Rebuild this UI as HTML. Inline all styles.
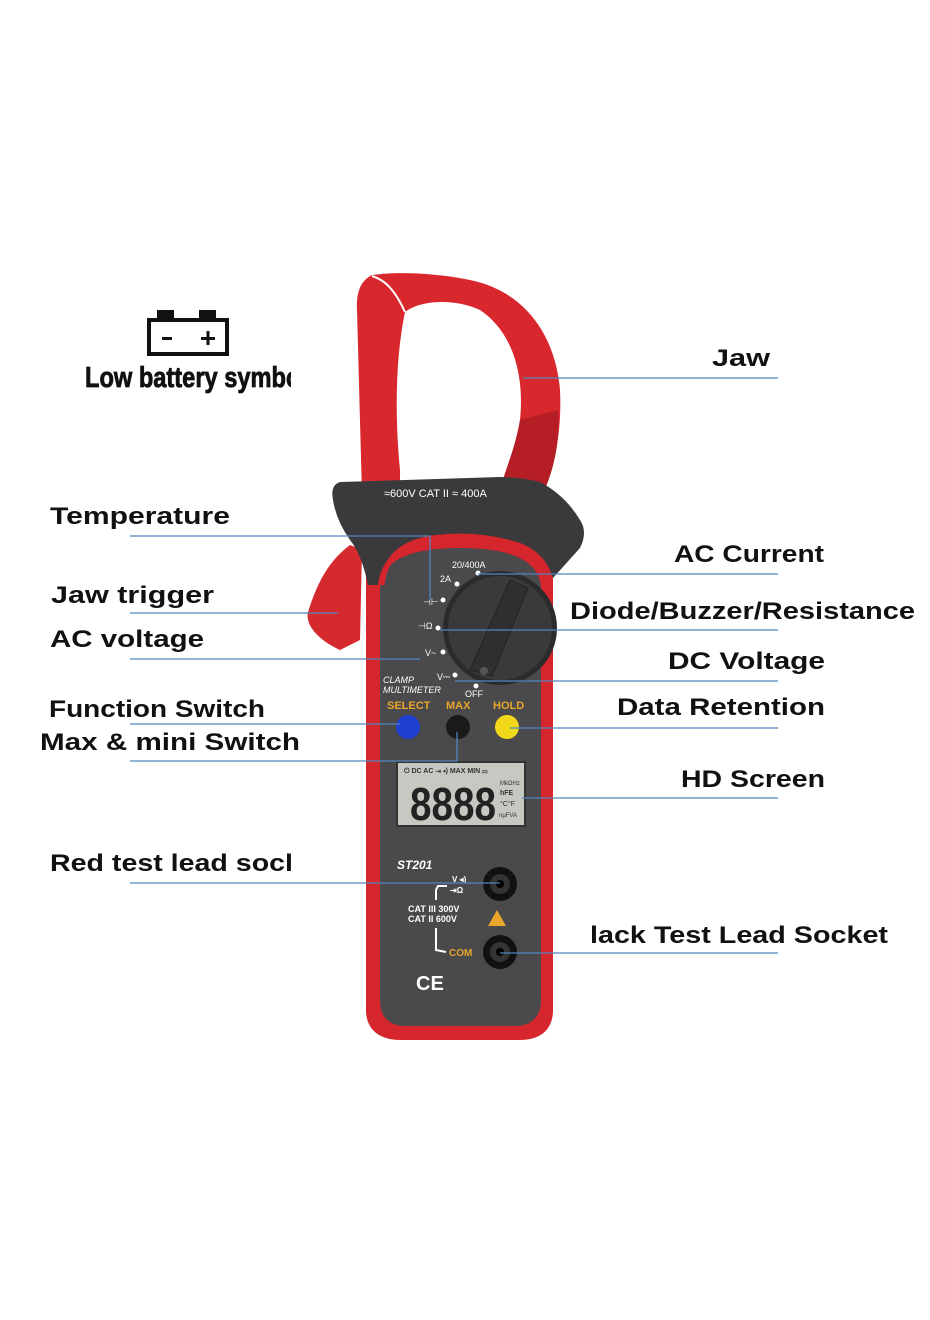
<!DOCTYPE html>
<html><head><meta charset="utf-8"><style>
html,body{margin:0;padding:0;background:#fff;}
svg{display:block}
.l{font-family:"Liberation Sans",sans-serif;font-weight:bold;font-size:24px;fill:#111;}
.ln{stroke:#4f86bd;stroke-width:1.3;fill:none}
.w{font-family:"Liberation Sans",sans-serif;fill:#fff;font-weight:bold}
.o{font-family:"Liberation Sans",sans-serif;fill:#e9a62a;font-weight:bold}
</style></head><body>
<svg width="930" height="1320" viewBox="0 0 930 1320" xmlns="http://www.w3.org/2000/svg">
<rect width="930" height="1320" fill="#fff"/>
<!-- battery icon -->
<rect x="149" y="320" width="78" height="34" fill="none" stroke="#111" stroke-width="4"/>
<rect x="157" y="310" width="17" height="11" fill="#111"/>
<rect x="199" y="310" width="17" height="11" fill="#111"/>
<rect x="162" y="337" width="10" height="3" fill="#111"/>
<rect x="201" y="337" width="14" height="3" fill="#111"/>
<rect x="206.5" y="331" width="3" height="14" fill="#111"/>
<svg x="0" y="0" width="291" height="400"><text x="85" y="387" font-family="Liberation Sans,sans-serif" font-weight="bold" font-size="29" textLength="222" lengthAdjust="spacingAndGlyphs" fill="#111" stroke="#111" stroke-width="0.8">Low battery symbol</text></svg>

<!-- jaw trigger -->
<path d="M350 545 C330 560 318 580 308 612 C305 625 318 640 340 650 L360 640 L362 550 Z" fill="#d42a2e"/>
<!-- jaw -->
<path d="M372 275 C362 280 356 290 357 310 L362 495 L400 495 L400 470 C395 420 395 360 405 312 C420 300 455 298 480 310 C510 330 525 370 520 420 C515 450 505 470 500 490 L540 500 C555 470 562 430 560 390 C555 330 520 290 470 280 C430 272 395 272 372 275 Z" fill="#d9272e"/>
<path d="M372 276 C385 280 395 290 405 312" stroke="#fff" stroke-width="2" fill="none"/>
<path d="M520 420 C515 450 505 470 500 490 L540 500 C555 470 560 440 558 410 Z" fill="#b51e24"/>
<!-- body -->
<path d="M366 580 C366 540 400 520 460 520 C520 520 553 540 553 580 L553 1010 C553 1030 540 1040 520 1040 L400 1040 C380 1040 366 1030 366 1010 Z" fill="#d5262d"/>
<path d="M380 590 C380 560 410 548 460 548 C510 548 541 560 541 590 L541 1000 C541 1018 530 1026 515 1026 L405 1026 C390 1026 380 1018 380 1000 Z" fill="#4a4a4d"/>
<!-- head -->
<path d="M340 482 Q330 485 333 500 Q336 520 350 540 Q362 555 368 585 L378 585 Q382 548 430 537 Q475 530 520 543 Q545 553 553 578 L580 548 Q588 532 580 520 Q565 495 540 482 Q520 477 500 477 Z" fill="#3a3a3c"/>
<path d="M382 585 Q386 545 432 538 Q478 532 518 545 Q540 553 548 572" stroke="#d5262d" stroke-width="5" fill="none"/>
<text x="384" y="497" font-family="Liberation Sans,sans-serif" font-size="11" fill="#fff">≈600V CAT II ≈ 400A</text>
<!-- dial -->
<circle cx="500" cy="628" r="57" fill="#2b2b2d"/>
<circle cx="500" cy="628" r="52" fill="#3a3a3c"/>
<path d="M470 670 L510 580 L528 588 L492 676 Z" fill="#303032" stroke="#222" stroke-width="1"/>
<circle cx="484" cy="671" r="4" fill="#555"/>
<g font-family="Liberation Sans,sans-serif" font-size="9" fill="#fff">
<text x="452" y="568">20/400A</text><text x="440" y="582">2A</text>
<text x="423" y="605">⊣⊢</text><text x="418" y="629">⊣Ω</text>
<text x="425" y="656">V~</text><text x="437" y="680">V⎓</text><text x="465" y="697">OFF</text>
<text x="383" y="683" font-style="italic">CLAMP</text><text x="383" y="693" font-style="italic">MULTIMETER</text>
</g>
<g fill="#fff"><circle cx="478" cy="573" r="2.5"/><circle cx="457" cy="584" r="2.5"/><circle cx="443" cy="600" r="2.5"/><circle cx="438" cy="628" r="2.5"/><circle cx="443" cy="652" r="2.5"/><circle cx="455" cy="675" r="2.5"/><circle cx="476" cy="686" r="2.5"/></g>
<!-- buttons -->
<text x="387" y="709" class="o" font-size="11">SELECT</text><text x="446" y="709" class="o" font-size="11">MAX</text><text x="493" y="709" class="o" font-size="11">HOLD</text>
<circle cx="408" cy="727" r="12" fill="#1f3fd0"/><circle cx="458" cy="727" r="12" fill="#1a1a1a"/><circle cx="507" cy="727" r="12" fill="#f2d81a"/>
<!-- LCD -->
<rect x="397" y="762" width="128" height="64" fill="#c6c8c2" stroke="#333" stroke-width="2"/>
<text x="404" y="773" font-family="Liberation Sans,sans-serif" font-size="7" font-weight="bold" fill="#333">⏻ DC AC ⇥ ◂) MAX MIN ▭</text>
<text x="410" y="820" font-family="Liberation Sans,sans-serif" font-weight="bold" font-size="46" fill="#222" textLength="86" lengthAdjust="spacingAndGlyphs">8888</text>
<text x="500" y="785" font-family="Liberation Sans,sans-serif" font-size="6" fill="#333">MkΩHz</text>
<text x="500" y="795" font-family="Liberation Sans,sans-serif" font-size="7" font-weight="bold" fill="#333">hFE</text>
<text x="500" y="806" font-family="Liberation Sans,sans-serif" font-size="7" fill="#333">°C°F</text>
<text x="499" y="817" font-family="Liberation Sans,sans-serif" font-size="6" fill="#333">nμFVA</text>
<!-- lower -->
<text x="397" y="869" class="w" font-size="12" font-style="italic">ST201</text>
<text x="452" y="882" class="w" font-size="8">V ◂)</text><text x="450" y="893" class="w" font-size="8">⇥Ω</text>
<text x="408" y="912" class="w" font-size="9" font-weight="normal">CAT III 300V</text><text x="408" y="922" class="w" font-size="9" font-weight="normal">CAT II 600V</text>
<path d="M447 886 L438 886 L436 890 L436 900 M436 928 L436 950 L446 952" stroke="#fff" stroke-width="2" fill="none"/>
<text x="449" y="956" class="o" font-size="10">COM</text>
<path d="M497 910 L506 926 L488 926 Z" fill="#e9a62a"/>
<text x="416" y="990" class="w" font-size="20" font-weight="normal">CE</text>
<circle cx="500" cy="884" r="17" fill="#111"/><circle cx="500" cy="884" r="10" fill="#333"/><circle cx="500" cy="884" r="4" fill="#000"/>
<circle cx="500" cy="952" r="17" fill="#111"/><circle cx="500" cy="952" r="10" fill="#333"/><circle cx="500" cy="952" r="4" fill="#000"/>

<!-- leader lines -->
<path class="ln" d="M523 378 H778"/>
<path class="ln" d="M130 536 H430 V600"/>
<path class="ln" d="M478 574 H778"/>
<path class="ln" d="M130 613 H338"/>
<path class="ln" d="M440 630 H778"/>
<path class="ln" d="M130 659 H420"/>
<path class="ln" d="M455 681 H778"/>
<path class="ln" d="M130 724 H400"/>
<path class="ln" d="M510 728 H778"/>
<path class="ln" d="M130 761 H457 V732"/>
<path class="ln" d="M522 798 H778"/>
<path class="ln" d="M130 883 H500"/>
<path class="ln" d="M500 953 H778"/>

<!-- labels -->
<text class="l" x="712" y="366" textLength="58" lengthAdjust="spacingAndGlyphs">Jaw</text>
<text class="l" x="50" y="524" textLength="180" lengthAdjust="spacingAndGlyphs">Temperature</text>
<text class="l" x="674" y="562" textLength="150" lengthAdjust="spacingAndGlyphs">AC Current</text>
<text class="l" x="51" y="603" textLength="163" lengthAdjust="spacingAndGlyphs">Jaw trigger</text>
<text class="l" x="570" y="619" textLength="345" lengthAdjust="spacingAndGlyphs">Diode/Buzzer/Resistance</text>
<text class="l" x="50" y="647" textLength="154" lengthAdjust="spacingAndGlyphs">AC voltage</text>
<text class="l" x="668" y="669" textLength="157" lengthAdjust="spacingAndGlyphs">DC Voltage</text>
<text class="l" x="49" y="717" textLength="216" lengthAdjust="spacingAndGlyphs">Function Switch</text>
<text class="l" x="617" y="715" textLength="208" lengthAdjust="spacingAndGlyphs">Data Retention</text>
<text class="l" x="40" y="750" textLength="260" lengthAdjust="spacingAndGlyphs">Max &amp; mini Switch</text>
<text class="l" x="681" y="787" textLength="144" lengthAdjust="spacingAndGlyphs">HD Screen</text>
<text class="l" x="50" y="871" textLength="243" lengthAdjust="spacingAndGlyphs">Red test lead socl</text>
<text class="l" x="590" y="943" textLength="298" lengthAdjust="spacingAndGlyphs">lack Test Lead Socket</text>
</svg>
</body></html>
